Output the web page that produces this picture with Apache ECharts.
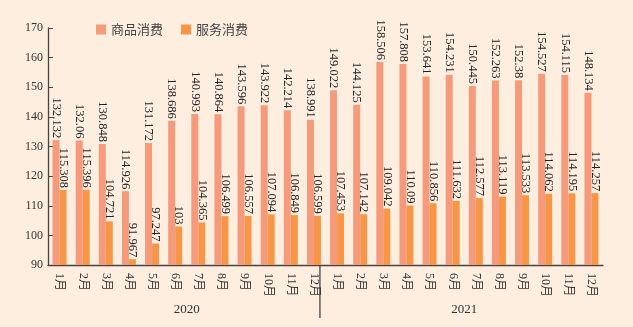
<!DOCTYPE html>
<html><head><meta charset="utf-8">
<script src="https://cdn.jsdelivr.net/npm/echarts@6/dist/echarts.min.js"></script>
<style>html,body{margin:0;padding:0;background:#FEEEE0;}#c{width:633px;height:327px;}</style>
</head><body><div id="c"></div>
<script>
const months = ['1月','2月','3月','4月','5月','6月','7月','8月','9月','10月','11月','12月','1月','2月','3月','4月','5月','6月','7月','8月','9月','10月','11月','12月'];
const years = ['2020','2021'];
const goods = [132.132,132.06,130.848,114.926,131.172,138.686,140.993,140.864,143.596,143.922,142.214,138.991,149.022,144.125,158.506,157.808,153.641,154.231,150.445,152.263,152.38,154.527,154.115,148.134];
const services = [115.308,115.396,104.721,91.967,97.247,103,104.365,106.499,106.557,107.094,106.849,106.599,107.453,107.142,109.042,110.09,110.856,111.632,112.577,113.119,113.533,114.062,114.195,114.257];
const seriesNames = ['商品消费','服务消费'];
const yTicks = {min:90, max:170, interval:10};

const serif = '"Liberation Serif","Times New Roman","Noto Sans CJK SC",serif';
const chart = echarts.init(document.getElementById('c'), null, {renderer:'canvas'});
const lbl = {show:true, position:'top', rotate:-90, align:'right', verticalAlign:'middle', distance:2, fontFamily:serif, fontSize:12.5, color:'#222', formatter: p => String(p.value)};
chart.setOption({
  backgroundColor:'#FEEEE0',
  animation:false,
  legend:{left:91, top:18, itemWidth:10, itemHeight:10, itemGap:18, icon:'rect', textStyle:{fontFamily:'"Noto Sans CJK SC",serif', fontSize:13, color:'#444'}, data:seriesNames},
  grid:{left:48, right:30, top:28, bottom:62, containLabel:false},
  xAxis:[{type:'category', data:months, boundaryGap:true,
    axisLine:{lineStyle:{color:'#444', width:1.3}},
    axisTick:{inside:true, length:5, alignWithLabel:false, lineStyle:{color:'#444'}},
    axisLabel:{rotate:-90, margin:8, fontFamily:serif, fontSize:12, color:'#333', interval:0}},
   {type:'category', data:years, position:'bottom', offset:30, gridIndex:0,
    axisLine:{show:false}, axisTick:{show:false},
    axisLabel:{margin:8, fontFamily:serif, fontSize:13, color:'#333'}}],
  yAxis:{type:'value', min:yTicks.min, max:yTicks.max, interval:yTicks.interval,
    axisLine:{show:true, lineStyle:{color:'#444', width:1.3}},
    axisTick:{show:true, inside:true, length:5, lineStyle:{color:'#444'}},
    splitLine:{show:false},
    axisLabel:{margin:5, fontFamily:serif, fontSize:12, color:'#333'}},
  series:[
    {name:seriesNames[0], type:'bar', data:goods, barWidth:7, barGap:'0%', itemStyle:{color:'#F59A7B'}, label:lbl},
    {name:seriesNames[1], type:'bar', data:services, barWidth:7, barGap:'0%', itemStyle:{color:'#F79646'}, label:lbl}
  ]
});
const cx = chart.convertToPixel({xAxisIndex:0}, 11) + 6;
const y0 = chart.convertToPixel({yAxisIndex:0}, yTicks.min);
chart.setOption({graphic:[{type:'line', shape:{x1:cx, y1:y0, x2:cx, y2:y0+53}, style:{stroke:'#444', lineWidth:1.3}}]});
</script></body></html>
